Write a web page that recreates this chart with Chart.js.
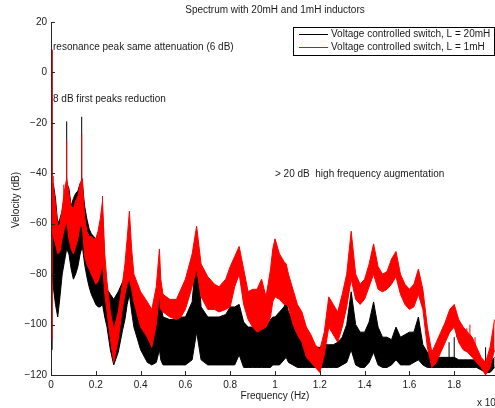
<!DOCTYPE html>
<html lang="en">

<head>
    <meta charset="UTF-8">
    <title>Spectrum with 20mH and 1mH inductors</title>
    <script src="https://cdn.jsdelivr.net/npm/chart.js"></script>
    <style>
        body {
            margin: 0;
            background: #fff;
        }

        canvas {
            display: block;
        }
    </style>
</head>

<body>
    <canvas id="spectrumChart" width="495" height="408"></canvas>

    <script type="text/javascript">
        // frequency grid, in units of 10^4 Hz
        const freq = [0.005, 0.01, 0.02, 0.03, 0.04, 0.05, 0.06, 0.07, 0.08, 0.09,
            0.10, 0.11, 0.12, 0.13, 0.14, 0.15, 0.16, 0.17, 0.18, 0.19,
            0.20, 0.21, 0.22, 0.23, 0.24, 0.25, 0.265, 0.28, 0.30, 0.32,
            0.33, 0.34, 0.35, 0.36, 0.37, 0.40, 0.43, 0.45, 0.47, 0.484,
            0.49, 0.50, 0.53, 0.56, 0.58, 0.60, 0.63, 0.65, 0.67, 0.70,
            0.73, 0.75, 0.78, 0.80, 0.82, 0.84, 0.86, 0.88, 0.90, 0.92,
            0.94, 0.96, 0.98, 0.99, 1.00, 1.02, 1.04, 1.05, 1.06, 1.08,
            1.10, 1.12, 1.14, 1.16, 1.18, 1.20, 1.22, 1.24, 1.26, 1.28,
            1.30, 1.32, 1.34, 1.36, 1.38, 1.40, 1.42, 1.44, 1.46, 1.48,
            1.50, 1.52, 1.54, 1.56, 1.58, 1.60, 1.62, 1.64, 1.66, 1.68,
            1.70, 1.72, 1.74, 1.76, 1.78, 1.80, 1.82, 1.84, 1.86, 1.88,
            1.90, 1.92, 1.94, 1.96, 1.98];

        // L = 20mH, upper and lower edge of the spectrum (dB)
        const blackTop = [-45, -44, -50, -60, -58, -55, -49, -44, -46, -53,
            -50, -48, -47, -44, -44, -53, -58, -62, -64, -65,
            -66, -64, -62, -56, -78, -86, -88, -90, -87, -83,
            -81, -79, -75, -80, -85, -91, -94, -96, -93, -87,
            -92, -97, -98, -98, -97, -97, -91, -70, -93, -97,
            -97, -97, -96, -93, -93, -92, -99, -101, -101, -102,
            -101, -101, -98, -97, -97, -95, -93, -91, -95, -98,
            -103, -106, -108, -109, -109, -109, -108, -108, -108, -107,
            -105, -100, -87, -100, -103, -103, -99, -91, -101, -105,
            -105, -106, -101, -105, -104, -103, -103, -97, -108, -111,
            -112, -113, -113, -113, -113, -113, -114, -114, -114, -114,
            -114, -114, -115, -115, -113];
        const blackLow = [-80, -85, -92, -97, -89, -80, -75, -70, -72, -78,
            -82, -80, -77, -72, -69, -76, -81, -85, -88, -90,
            -92, -93, -93, -92, -97, -101, -110, -116, -111, -102,
            -98, -92, -88, -95, -101, -110, -115, -116, -115, -110,
            -114, -116, -116, -116, -116, -116, -114, -103, -114, -116,
            -116, -116, -116, -116, -116, -112, -117, -117, -117, -117,
            -117, -117, -117, -116, -116, -116, -114, -113, -115, -116,
            -117, -117, -117, -117, -117, -117, -117, -117, -117, -117,
            -116, -115, -110, -116, -117, -117, -115, -111, -116, -117,
            -117, -116, -114, -116, -116, -116, -115, -114, -116, -117,
            -117, -117, -117, -117, -117, -117, -117, -117, -117, -117,
            -117, -118, -119, -119, -117];

        // L = 1mH, upper and lower edge of the spectrum (dB)
        const redTop = [-44, -45, -52, -61, -60, -54, -47, -42, -48, -53,
            -54, -51, -49, -44, -42, -57, -63, -65, -65, -66,
            -66, -63, -58, -51, -72, -83, -95, -102, -95, -83,
            -76, -66, -55, -70, -80, -87, -91, -94, -85, -70,
            -82, -88, -90, -90, -86, -82, -72, -61, -76, -81,
            -84, -85, -82, -77, -73, -69, -78, -87, -86, -86,
            -82, -89, -78, -70, -66, -72, -75, -76, -80, -86,
            -92, -95, -101, -104, -108, -110, -103, -89, -92, -95,
            -88, -80, -63, -80, -84, -82, -76, -68, -77, -80,
            -79, -74, -71, -80, -84, -86, -84, -78, -86, -101,
            -111, -107, -103, -99, -94, -92, -98, -101, -103, -105,
            -109, -113, -115, -109, -98];
        const redLow = [-62, -65, -68, -72, -71, -66, -62, -59, -66, -70,
            -72, -69, -66, -61, -61, -73, -76, -78, -80, -82,
            -84, -83, -80, -76, -88, -95, -106, -115, -106, -93,
            -88, -84, -82, -86, -91, -101, -105, -109, -100, -88,
            -94, -95, -97, -98, -97, -94, -85, -78, -89, -94,
            -94, -95, -94, -93, -85, -80, -92, -98, -101, -103,
            -102, -101, -97, -91, -89, -90, -92, -92, -93, -100,
            -104, -107, -113, -115, -117, -119, -112, -101, -104, -107,
            -101, -93, -82, -90, -92, -90, -85, -80, -86, -87,
            -86, -84, -81, -88, -92, -94, -93, -88, -94, -109,
            -117, -115, -111, -107, -103, -101, -107, -110, -111, -113,
            -115, -117, -120, -117, -110];

        // narrow peaks sticking out of the spectrum
        const blackPeakFreq = [0.005, 0.07, 0.137, 1.777, 1.80, 1.94];
        const blackPeakTop = [9, -19.4, -17.6, -107, -105, -109];
        const blackPeakBase = [-110, -62, -62, -116, -116, -117];

        const redPeakFreq = [0.005, 0.01, 0.057, 0.07, 0.137, 0.23, 1.81, 1.833, 1.856, 1.87, 1.893];
        const redPeakTop = [9, -41, -44.5, -27, -24.7, -49, -98, -100, -101.5, -100, -105];
        const redPeakBase = [-106, -60, -60, -58, -58, -70, -105, -108, -110, -111, -113];

        const yTicks = [-120, -100, -80, -60, -40, -20, 0, 20];
        const xTicks = [0, 0.2, 0.4, 0.6, 0.8, 1, 1.2, 1.4, 1.6, 1.8];

        const seriesLabels = ['Voltage controlled switch, L = 20mH', 'Voltage controlled switch, L = 1mH'];
        const seriesColors = ['#000000', '#ff0000'];

        const FONT = '"Liberation Sans", Arial, sans-serif';
        const TEXT = '#1a1a1a';

        function edge(values) {
            return freq.map((f, i) => ({ x: f, y: values[i] }));
        }

        function peaks(fs, tops, bases) {
            const pts = [];
            fs.forEach((f, i) => {
                pts.push({ x: f, y: bases[i] }, { x: f, y: tops[i] }, { x: f, y: null });
            });
            return pts;
        }

        function lineSet(label, data, color, order, fill) {
            return {
                label: label,
                data: data,
                borderColor: color,
                backgroundColor: color,
                borderWidth: 1,
                pointRadius: 0,
                tension: 0,
                spanGaps: false,
                fill: fill,
                order: order
            };
        }

        // inward tick marks, MATLAB style
        const tickMarks = {
            id: 'tickMarks',
            afterDraw(chart) {
                const c = chart.ctx;
                const a = chart.chartArea;
                const xs = chart.scales.x, ys = chart.scales.y;
                c.save();
                c.strokeStyle = '#262626';
                c.lineWidth = 1;
                c.beginPath();
                yTicks.forEach(v => {
                    const y = Math.round(ys.getPixelForValue(v)) + 0.5;
                    c.moveTo(a.left, y);
                    c.lineTo(a.left + 4, y);
                });
                xTicks.forEach(v => {
                    const x = Math.round(xs.getPixelForValue(v)) + 0.5;
                    c.moveTo(x, a.bottom);
                    c.lineTo(x, a.bottom - 4);
                });
                c.stroke();
                c.restore();
            }
        };

        // title, notes, axis titles and the boxed legend
        const labelsPlugin = {
            id: 'labelsPlugin',
            afterDraw(chart) {
                const c = chart.ctx;
                c.save();
                c.fillStyle = TEXT;
                c.font = '10px ' + FONT;
                c.textBaseline = 'middle';

                c.textAlign = 'center';
                c.fillText('Spectrum with 20mH and 1mH inductors', 275, 10);
                c.fillText('Frequency (Hz)', 275, 396);

                c.textAlign = 'left';
                c.fillText('resonance peak same attenuation (6 dB)', 53, 47);
                c.fillText('8 dB first peaks reduction', 53, 99);
                c.fillText('> 20 dB  high frequency augmentation', 275, 174);
                c.fillText('x 10', 477, 403);

                c.save();
                c.translate(16, 200);
                c.rotate(-Math.PI / 2);
                c.textAlign = 'center';
                c.fillText('Velocity (dB)', 0, 0);
                c.restore();

                // legend
                const lx = 293.5, ly = 27.5, lw = 201, lh = 28;
                c.fillStyle = '#fff';
                c.fillRect(lx, ly, lw, lh);
                c.strokeStyle = '#000';
                c.lineWidth = 1;
                c.strokeRect(lx, ly, lw, lh);
                seriesLabels.forEach((label, i) => {
                    const y = 34 + i * 13;
                    c.fillStyle = seriesColors[i];
                    c.fillRect(299, y, 29, 1);
                    c.fillStyle = TEXT;
                    c.fillText(label, 331, y + 0.5);
                });
                c.restore();
            }
        };

        const ctx = document.getElementById('spectrumChart').getContext('2d');
        const spectrumChart = new Chart(ctx, {
            type: 'line',
            data: {
                datasets: [
                    lineSet(seriesLabels[0], edge(blackTop), seriesColors[0], 3, false),
                    lineSet(seriesLabels[0], edge(blackLow), seriesColors[0], 3, 0),
                    lineSet(seriesLabels[0], peaks(blackPeakFreq, blackPeakTop, blackPeakBase), seriesColors[0], 2, false),
                    lineSet(seriesLabels[1], edge(redTop), seriesColors[1], 1, false),
                    lineSet(seriesLabels[1], edge(redLow), seriesColors[1], 1, 3),
                    lineSet(seriesLabels[1], peaks(redPeakFreq, redPeakTop, redPeakBase), seriesColors[1], 0, false)
                ]
            },
            options: {
                responsive: false,
                animation: false,
                events: [],
                layout: {
                    padding: { top: 22, right: 0, left: 0, bottom: 0 }
                },
                plugins: {
                    legend: { display: false },
                    title: { display: false },
                    tooltip: { enabled: false },
                    filler: { drawTime: 'beforeDatasetDraw' }
                },
                scales: {
                    x: {
                        type: 'linear',
                        min: 0,
                        max: 1.982,
                        afterFit: s => { s.height = 33; },
                        afterBuildTicks: s => { s.ticks = xTicks.map(v => ({ value: v })); },
                        grid: { display: false, drawTicks: false },
                        border: { display: true, color: '#262626', width: 1 },
                        ticks: {
                            padding: 4,
                            maxRotation: 0,
                            autoSkip: false,
                            color: TEXT,
                            font: { family: FONT, size: 10 },
                            callback: v => String(+v.toFixed(1))
                        }
                    },
                    y: {
                        min: -120,
                        max: 20,
                        afterFit: s => { s.width = 51; },
                        afterBuildTicks: s => { s.ticks = yTicks.map(v => ({ value: v })); },
                        grid: { display: false, drawTicks: false },
                        border: { display: true, color: '#262626', width: 1 },
                        ticks: {
                            padding: 4,
                            autoSkip: false,
                            color: TEXT,
                            font: { family: FONT, size: 10 },
                            callback: v => (v < 0 ? '\u2212' + Math.abs(v) : String(v))
                        }
                    }
                }
            },
            plugins: [tickMarks, labelsPlugin]
        });
    </script>

</body>

</html>
